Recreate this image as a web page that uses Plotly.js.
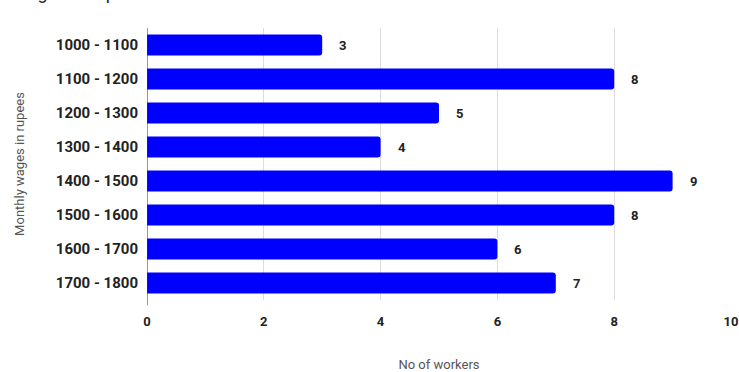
<!DOCTYPE html>
<html>
<head>
<meta charset="utf-8">
<script src="https://cdn.plot.ly/plotly-3.0.1.min.js"></script>
<style>html,body{margin:0;padding:0;background:#fff;}#chart{width:739px;height:372px;}</style>
</head>
<body>
<div id="chart"></div>
<script>
const wageRanges = ["1000 - 1100","1100 - 1200","1200 - 1300","1300 - 1400","1400 - 1500","1500 - 1600","1600 - 1700","1700 - 1800"];
const workers = [3, 8, 5, 4, 9, 8, 6, 7];
const xTicks = [0, 2, 4, 6, 8, 10];
const chartTitle = "Wages in rupees";
const xTitle = "No of workers";
const yTitle = "Monthly wages in rupees";

const trace = {
  type: "bar",
  orientation: "h",
  x: workers,
  y: wageRanges,
  marker: {color: "#0000ff", cornerradius: 3},
  hoverinfo: "none"
};

const labelAnns = workers.map((v, i) => ({
  x: v, y: wageRanges[i], xref: "x", yref: "y",
  text: String(v), showarrow: false, xanchor: "left", xshift: 15,
  font: {family: "Roboto, sans-serif", size: 13, color: "#222", weight: 700}
}));

const layout = {
  width: 739, height: 372,
  margin: {l: 147, r: 8, t: 28, b: 72},
  paper_bgcolor: "#fff", plot_bgcolor: "#fff",
  bargap: 0.38,
  showlegend: false,
  xaxis: {
    range: [0, 10], tickvals: xTicks, ticktext: xTicks.map(String),
    showgrid: true, gridcolor: "#dcdcdc", gridwidth: 1,
    zeroline: false, showline: false, ticks: "",
    ticklabelstandoff: 12,
    tickfont: {family: "Roboto, sans-serif", size: 13, color: "#222", weight: 700},
    title: {text: xTitle, standoff: 34, font: {family: "Roboto, sans-serif", size: 13, color: "#555"}}
  },
  yaxis: {
    categoryorder: "array", categoryarray: wageRanges, autorange: "reversed",
    showgrid: false, zeroline: false, showline: false, ticks: "",
    ticklabelstandoff: 8,
    tickfont: {family: "Roboto, sans-serif", size: 15, color: "#222", weight: 700},
    title: {text: yTitle, standoff: 28, font: {family: "Roboto, sans-serif", size: 13, color: "#555"}}
  },
  shapes: [{
    type: "line", xref: "x", yref: "paper", x0: 0, x1: 0, y0: -0.02, y1: 1,
    line: {color: "#333", width: 1}
  }],
  annotations: labelAnns.concat([{
    text: chartTitle, xref: "paper", yref: "paper", x: -0.235, y: 1.086,
    xanchor: "left", yanchor: "bottom", showarrow: false,
    font: {family: "Roboto, sans-serif", size: 18, color: "#222"}
  }])
};

Plotly.newPlot("chart", [trace], layout, {displayModeBar: false, staticPlot: true});
</script>
</body>
</html>
